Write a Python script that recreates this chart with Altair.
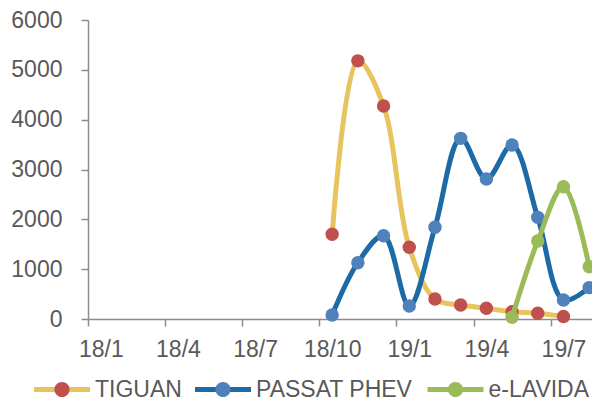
import json
import altair as alt
import pandas as pd

# ---- data ----
months = ["18/1", "18/2", "18/3", "18/4", "18/5", "18/6", "18/7", "18/8", "18/9", "18/10",
          "18/11", "18/12", "19/1", "19/2", "19/3", "19/4", "19/5", "19/6", "19/7", "19/8"]
tick_months = ["18/1", "18/4", "18/7", "18/10", "19/1", "19/4", "19/7"]

series_names = ["TIGUAN", "PASSAT PHEV", "e-LAVIDA"]
line_colors = ["#E8C45E", "#1C6AA6", "#9BBB59"]
marker_colors = ["#C0504D", "#4F81BD", "#9BBB59"]

tiguan_months = ["18/10", "18/11", "18/12", "19/1", "19/2", "19/3", "19/4", "19/5", "19/6", "19/7"]
tiguan_values = [1700, 5180, 4275, 1440, 400, 280, 215, 145, 115, 50]

passat_months = ["18/10", "18/11", "18/12", "19/1", "19/2", "19/3", "19/4", "19/5", "19/6", "19/7", "19/8"]
passat_values = [80, 1130, 1670, 260, 1840, 3625, 2810, 3490, 2040, 380, 630]

lavida_months = ["19/5", "19/6", "19/7", "19/8"]
lavida_values = [35, 1565, 2655, 1050]

rows = []
for name, ms, vs in [("TIGUAN", tiguan_months, tiguan_values),
                     ("PASSAT PHEV", passat_months, passat_values),
                     ("e-LAVIDA", lavida_months, lavida_values)]:
    for m, v in zip(ms, vs):
        rows.append({"series": name, "month": m, "idx": months.index(m), "value": v})
df = pd.DataFrame(rows)

# legend entry left edges (relative to the plot's left edge)
legend_x = [-56.5, 104.5, 337]

FONT = "Liberation Sans"
TXT = "#595959"
AX = "#8C8C8C"
FS = 23
SYM = 3136
circle_path = "M0.27,0 A0.27,0.27 0 1,1 -0.27,0 A0.27,0.27 0 1,1 0.27,0 Z"

x_enc = alt.X(
    "pos:Q",
    scale=alt.Scale(domain=[0, 19.61], nice=False, zero=False),
    axis=alt.Axis(
        values=[months.index(m) for m in tick_months],
        labelExpr=json.dumps(months) + "[datum.value]",
        labelOffset=12.85,
        labelOverlap=False,
        labelFlush=False,
        labelPadding=12,
        tickSize=7,
        grid=False,
        title=None,
    ),
)
y_enc = alt.Y(
    "value:Q",
    scale=alt.Scale(domain=[0, 6000], nice=False),
    axis=alt.Axis(values=[0, 1000, 2000, 3000, 4000, 5000, 6000], grid=False,
                  format="d", title=None, tickSize=7, labelPadding=19),
)

common_legend = dict(
    orient="none", direction="horizontal", title=None, legendY=339,
    labelFontSize=FS, labelFont=FONT, symbolSize=SYM,
    symbolStrokeWidth=5, labelOffset=2.5, padding=0,
)

base = alt.Chart(df).transform_calculate(pos="datum.idx + 0.5")

layers = []
for i, name in enumerate(series_names):
    sub = base.transform_filter(alt.datum.series == name)
    line = sub.mark_line(interpolate="catmull-rom", strokeWidth=5).encode(
        x=x_enc, y=y_enc,
        color=alt.Color("series:N",
                        scale=alt.Scale(domain=[name], range=[line_colors[i]]),
                        legend=alt.Legend(symbolType="stroke", labelColor=TXT,
                                          legendX=legend_x[i], **common_legend)),
    )
    pts = sub.mark_circle(size=180, opacity=1).encode(
        x=x_enc, y=y_enc,
        fill=alt.Fill("series:N",
                      scale=alt.Scale(domain=[name], range=[marker_colors[i]]),
                      legend=alt.Legend(symbolType=circle_path, labelExpr="''",
                                        symbolStrokeColor="transparent", symbolOpacity=1,
                                        legendX=legend_x[i], **common_legend)),
    )
    layers += [line, pts]

chart = alt.layer(*layers).resolve_scale(
    color="independent", fill="independent"
).resolve_legend(
    color="independent", fill="independent"
).properties(
    width=504, height=299,
    autosize=alt.AutoSizeParams(type="none"),
    padding={"left": 80, "top": 12, "right": 0, "bottom": 82},
).configure_view(stroke=None).configure_axis(
    domainColor=AX, tickColor=AX, domainWidth=1.5, tickWidth=1.5,
    labelFont=FONT, labelFontSize=FS, labelColor=TXT,
)

chart.save("out.html", embed_options={"renderer": "svg", "actions": False})
